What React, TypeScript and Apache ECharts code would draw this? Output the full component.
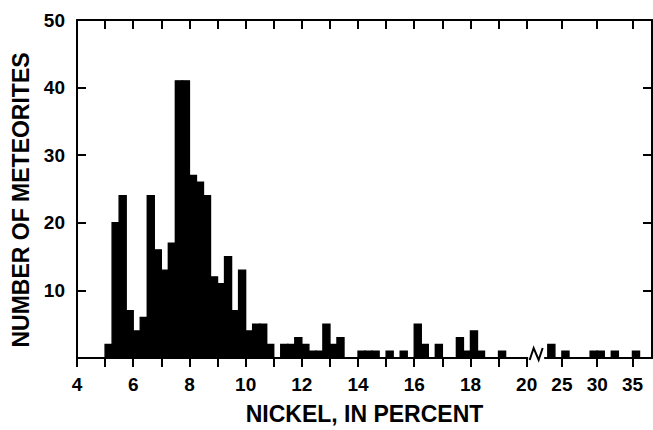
import React, { useEffect, useRef } from "react";
import * as echarts from "echarts";

// ---- data ----
// Bins of 0.25 % nickel, starting at 5.00 %, up to 19.00 %
const LOW_BIN_START = 5.0;
const LOW_BIN_WIDTH = 0.25;
const lowCounts = [
  2, 20, 24, 7, // 5.00 - 5.75
  4, 6, 24, 16, // 6.00 - 6.75
  13, 17, 41, 41, // 7.00 - 7.75
  27, 26, 24, 12, // 8.00 - 8.75
  11, 15, 7, 13, // 9.00 - 9.75
  4, 5, 5, 2, // 10.00 - 10.75
  0, 2, 2, 3, // 11.00 - 11.75
  2, 1, 1, 5, // 12.00 - 12.75
  2, 3, 0, 0, // 13.00 - 13.75
  1, 1, 1, 0, // 14.00 - 14.75
  1, 0, 1, 0, // 15.00 - 15.75
  5, 2, 0, 2, // 16.00 - 16.75
  0, 0, 3, 1, // 17.00 - 17.75
  4, 1, 0, 0, // 18.00 - 18.75
  1, // 19.00
];
// Beyond the axis break: 1 % wide bins
const highBinStarts = [23, 25, 29, 30, 32, 35];
const HIGH_BIN_WIDTH = 1;
const highCounts = [2, 1, 1, 1, 1, 1];

const xTickValues = [4, 5, 6, 7, 8, 9, 10, 11, 12, 13, 14, 15, 16, 17, 18, 19, 20, 25, 30, 35];
const xLabelValues = [4, 6, 8, 10, 12, 14, 16, 18, 20, 25, 30, 35];

// axis break: scale compressed above 20 %
const BREAK_AT = 20;
const COMPRESS = 0.251;
const toAxis = (x: number) => (x <= BREAK_AT ? x : BREAK_AT + (x - BREAK_AT) * COMPRESS);
const fromAxis = (d: number) => (d <= BREAK_AT + 1e-6 ? d : BREAK_AT + (d - BREAK_AT) / COMPRESS);

const FONT = "'Liberation Sans', Arial, Helvetica, sans-serif";

export default function App() {
  const ref = useRef<HTMLDivElement>(null);

  useEffect(() => {
    if (!ref.current) return;
    const chart = echarts.init(ref.current, undefined, { renderer: "svg" });

    const bars: number[][] = [];
    lowCounts.forEach((c, i) => {
      const s = LOW_BIN_START + i * LOW_BIN_WIDTH;
      if (c > 0) bars.push([s, s + LOW_BIN_WIDTH, c]);
    });
    highBinStarts.forEach((s, i) => {
      if (highCounts[i] > 0) bars.push([s, s + HIGH_BIN_WIDTH, highCounts[i]]);
    });

    const axisLineStyle = { color: "#000", width: 2 };
    const tickStyle = { color: "#000", width: 2 };
    const labelStyle = { color: "#000", fontSize: 19, fontWeight: "bold" as const, fontFamily: FONT };
    const nameStyle = { color: "#000", fontSize: 23, fontWeight: "bold" as const, fontFamily: FONT };

    chart.setOption({
      animation: false,
      backgroundColor: "#fff",
      grid: { left: 77, right: 1, top: 20, bottom: 67, containLabel: false },
      xAxis: [
        {
          type: "value",
          position: "bottom",
          min: 4,
          max: 24.46,
          axisLine: { show: true, onZero: false, lineStyle: axisLineStyle },
          axisTick: { show: true, inside: false, length: 9, customValues: xTickValues.map(toAxis), lineStyle: tickStyle },
          axisLabel: {
            show: true,
            customValues: xLabelValues.map(toAxis),
            formatter: (v: number) => String(Math.round(fromAxis(v))),
            margin: 17,
            ...labelStyle,
          },
          splitLine: { show: false },
          name: "NICKEL, IN PERCENT",
          nameLocation: "middle",
          nameGap: 44,
          nameTextStyle: nameStyle,
        },
        {
          type: "value",
          position: "top",
          min: 4,
          max: 24.46,
          axisLine: { show: true, onZero: false, lineStyle: axisLineStyle },
          axisTick: { show: true, inside: true, length: 9, customValues: xTickValues.map(toAxis), lineStyle: tickStyle },
          axisLabel: { show: false },
          splitLine: { show: false },
        },
      ],
      yAxis: [
        {
          type: "value",
          position: "left",
          min: 0,
          max: 50,
          interval: 10,
          axisLine: { show: true, onZero: false, lineStyle: axisLineStyle },
          axisTick: { show: true, inside: true, length: 9, lineStyle: tickStyle },
          axisLabel: {
            show: true,
            formatter: (v: number) => (v === 0 ? "" : String(v)),
            margin: 12,
            ...labelStyle,
          },
          splitLine: { show: false },
          name: "NUMBER OF METEORITES",
          nameLocation: "middle",
          nameGap: 44,
          nameTextStyle: { ...nameStyle, padding: [0, 22, 0, 0] },
        },
        {
          type: "value",
          position: "right",
          min: 0,
          max: 50,
          interval: 10,
          axisLine: { show: true, onZero: false, lineStyle: axisLineStyle },
          axisTick: { show: true, inside: true, length: 9, lineStyle: tickStyle },
          axisLabel: { show: false },
          splitLine: { show: false },
        },
      ],
      series: [
        {
          type: "custom",
          xAxisIndex: 0,
          yAxisIndex: 0,
          clip: false,
          encode: { x: [0, 1], y: 2 },
          data: bars,
          renderItem: (params: any, api: any) => {
            const x0 = api.value(0);
            const x1 = api.value(1);
            const v = api.value(2);
            const p0 = api.coord([toAxis(x0), v]);
            const p1 = api.coord([toAxis(x1), 0]);
            return {
              type: "rect",
              shape: { x: p0[0], y: p0[1], width: p1[0] - p0[0], height: p1[1] - p0[1] },
              style: { fill: "#000", stroke: "#000", lineWidth: 1.4 },
            };
          },
        },
        {
          type: "custom",
          xAxisIndex: 0,
          yAxisIndex: 0,
          clip: false,
          z: 5,
          encode: { x: 0, y: 1 },
          data: [[BREAK_AT, 0]],
          renderItem: (params: any, api: any) => {
            const b = api.coord([toAxis(api.value(0)), 0]);
            const bx = b[0];
            const by = b[1];
            return {
              type: "group",
              children: [
                {
                  type: "rect",
                  shape: { x: bx + 1.5, y: by - 3, width: 16, height: 6 },
                  style: { fill: "#fff" },
                },
                {
                  type: "polyline",
                  shape: {
                    points: [
                      [bx + 3, by + 2],
                      [bx + 7, by - 10],
                      [bx + 12, by + 2],
                      [bx + 16, by - 10],
                    ],
                  },
                  style: { stroke: "#000", lineWidth: 2, fill: "none" },
                },
              ],
            };
          },
        },
      ],
    });

    return () => chart.dispose();
  }, []);

  return (
    <div
      ref={ref}
      style={{ position: "fixed", left: 0, top: 0, width: 653, height: 430, background: "#fff" }}
    />
  );
}
